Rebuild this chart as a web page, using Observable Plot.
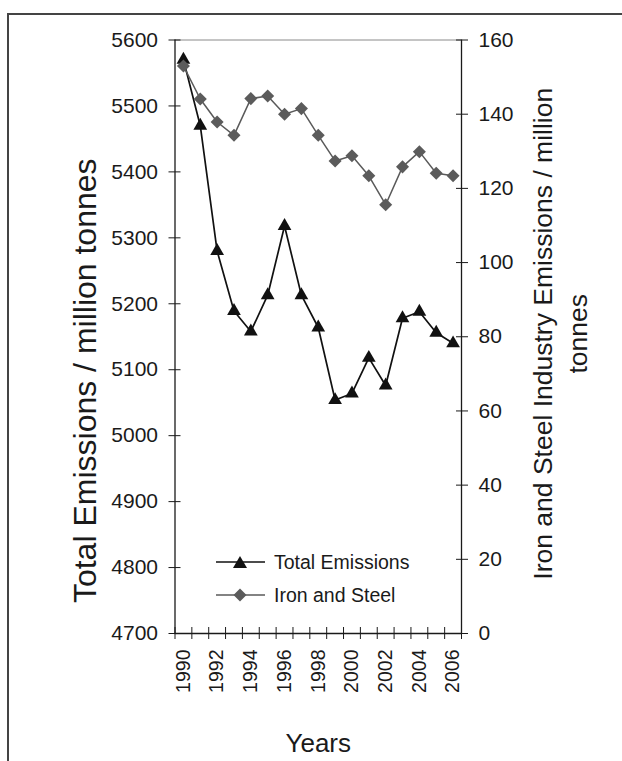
<!DOCTYPE html>
<html>
<head>
<meta charset="utf-8">
<script src="https://cdn.jsdelivr.net/npm/d3@7"></script>
<script src="https://cdn.jsdelivr.net/npm/@observablehq/plot@0.6"></script>
<style>
  body { margin: 0; background: #fff; }
  #wrap { position: relative; width: 622px; height: 761px; overflow: hidden; font-family: "Liberation Sans", Arial, sans-serif; }
  #frame { position: absolute; left: 7px; top: 13px; width: 640px; height: 800px; border-left: 2px solid #444; border-top: 2px solid #444; }
  #chart { position: absolute; left: 0; top: 0; }
  #legend { position: absolute; left: 216px; top: 546px; font-size: 19.5px; color: #1a1a1a; line-height: 32.5px; }
  #legend .item { display: flex; align-items: center; height: 32.5px; }
  #legend svg { margin-right: 9px; }
</style>
</head>
<body>
<div id="wrap">
  <div id="frame"></div>
  <div id="chart"></div>
  <div id="legend"></div>
</div>
<script>
const years = [1990,1991,1992,1993,1994,1995,1996,1997,1998,1999,2000,2001,2002,2003,2004,2005,2006];
const totalEmissions = [5570,5470,5280,5189,5158,5213,5318,5213,5164,5054,5064,5118,5076,5178,5188,5156,5140];
const ironSteel = [153.0,144.1,137.9,134.3,144.2,144.9,140.0,141.5,134.3,127.4,128.8,123.4,115.6,125.8,129.9,124.1,123.4];
const leftTicks = [4700,4800,4900,5000,5100,5200,5300,5400,5500,5600];
const rightTicks = [0,20,40,60,80,100,120,140,160];
const yearLabels = [1990,1992,1994,1996,1998,2000,2002,2004,2006];
const seriesNames = ["Total Emissions","Iron and Steel"];
const leftTitle = "Total Emissions / million tonnes";
const rightTitle = "Iron and Steel Industry Emissions / million\ntonnes";
const xTitle = "Years";

const leftMin = 4700, leftMax = 5600, rightMin = 0, rightMax = 160;
const toLeft = v => leftMin + (v - rightMin) * (leftMax - leftMin) / (rightMax - rightMin);
const fromLeft = v => rightMin + (v - leftMin) * (rightMax - rightMin) / (leftMax - leftMin);

const rows = years.map((y, i) => ({year: y, total: totalEmissions[i], iron: ironSteel[i]}));
const bounds = d3.range(years.length + 1).map(i => years[0] - 0.5 + i);

const diamond = {
  draw(ctx, size) {
    const s = Math.sqrt(size / 2);
    ctx.moveTo(0, -s); ctx.lineTo(s, 0); ctx.lineTo(0, s); ctx.lineTo(-s, 0); ctx.closePath();
  }
};

const axisColor = "#1a1a1a";
const font = "'Liberation Sans', Arial, sans-serif";

const chart = Plot.plot({
  width: 622,
  height: 761,
  marginLeft: 174.5,
  marginRight: 161,
  marginTop: 39.5,
  marginBottom: 128,
  style: {fontFamily: font, fontSize: "20px", color: axisColor, background: "transparent", overflow: "visible"},
  x: {domain: [bounds[0], bounds[bounds.length - 1]]},
  y: {domain: [leftMin, leftMax]},
  marks: [
    Plot.ruleY([leftMax], {stroke: "#8a8a8a", strokeWidth: 1}),
    Plot.ruleX([bounds[0]], {stroke: axisColor, strokeWidth: 1.3}),
    Plot.ruleX([bounds[bounds.length - 1]], {stroke: axisColor, strokeWidth: 1.3}),
    Plot.ruleY([leftMin], {stroke: axisColor, strokeWidth: 1.3}),
    Plot.axisY(leftTicks, {anchor: "left", tickSize: 12, dx: 6, fill: "none", stroke: axisColor, label: null}),
    Plot.axisY(leftTicks, {anchor: "left", tickSize: 0, tickPadding: 17, fontSize: 21, fill: axisColor, label: null, tickFormat: d => String(d)}),
    Plot.axisY(rightTicks.map(toLeft), {anchor: "right", tickSize: 12, dx: -6, fill: "none", stroke: axisColor, label: null}),
    Plot.axisY(rightTicks.map(toLeft), {anchor: "right", tickSize: 0, tickPadding: 17, fontSize: 21, fill: axisColor, label: null, tickFormat: d => String(Math.round(fromLeft(d)))}),
    Plot.axisX(bounds, {anchor: "bottom", tickSize: 12, dy: -6, fill: "none", stroke: axisColor, label: null}),
    Plot.axisX(yearLabels, {anchor: "bottom", tickSize: 0, tickPadding: 16, tickRotate: -90, fontSize: 19.5, fill: axisColor, label: null, tickFormat: d => String(d)}),
    Plot.line(rows, {x: "year", y: "total", stroke: "#111", strokeWidth: 1.7}),
    Plot.dot(rows, {x: "year", y: "total", symbol: "triangle", r: 5.1, fill: "#111", stroke: "none"}),
    Plot.line(rows, {x: "year", y: d => toLeft(d.iron), stroke: "#5a5a5a", strokeWidth: 1.5}),
    Plot.dot(rows, {x: "year", y: d => toLeft(d.iron), symbol: diamond, r: 5.2, fill: "#5b5b5b", stroke: "none"}),
    Plot.text([leftTitle], {frameAnchor: "left", dx: -89, dy: 44, rotate: -90, fontSize: 32, textAnchor: "middle", fill: axisColor}),
    Plot.text([rightTitle], {frameAnchor: "right", dx: 96.5, dy: -3, rotate: -90, fontSize: 26.5, textAnchor: "middle", lineHeight: 1.32, fill: axisColor}),
    Plot.text([xTitle], {frameAnchor: "bottom", dy: 118, fontSize: 26, textAnchor: "middle", fill: axisColor})
  ]
});
document.getElementById("chart").appendChild(chart);

const legend = document.getElementById("legend");
const markers = [
  '<polygon points="24,5 31,17 17,17" fill="#111"/>',
  '<polygon points="24,4.5 30.5,11 24,17.5 17.5,11" fill="#5b5b5b"/>'
];
const strokes = ["#111", "#5a5a5a"];
seriesNames.forEach((name, i) => {
  const item = document.createElement("div");
  item.className = "item";
  item.innerHTML = `<svg width="49" height="22"><line x1="0" x2="49" y1="11" y2="11" stroke="${strokes[i]}" stroke-width="1.5"/>${markers[i]}</svg><span>${name}</span>`;
  legend.appendChild(item);
});
</script>
</body>
</html>
